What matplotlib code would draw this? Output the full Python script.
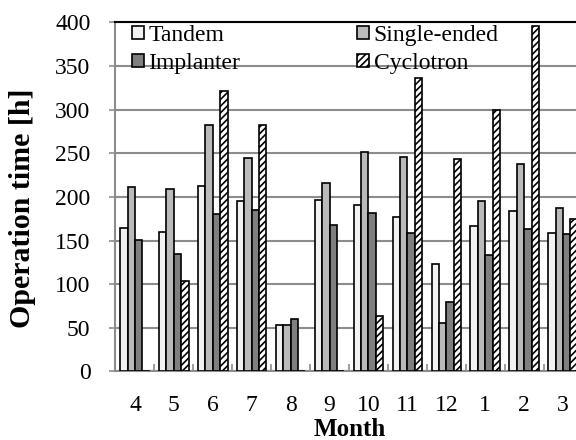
import matplotlib
matplotlib.use('Agg')
import matplotlib.pyplot as plt
import numpy as np

# monthly operation time per accelerator
months = ['4', '5', '6', '7', '8', '9', '10', '11', '12', '1', '2', '3']
tandem = [164, 160, 213, 195, 53, 196, 191, 177, 123, 167, 184, 159]
single_ended = [211, 209, 282, 245, 53, 216, 252, 246, 56, 195, 238, 187]
implanter = [151, 135, 181, 185, 60, 168, 182, 159, 80, 133, 163, 158]
cyclotron = [0, 104, 322, 282, 0, 0, 64, 336, 244, 300, 396, 175]

series = [tandem, single_ended, implanter, cyclotron]
names = ['Tandem', 'Single-ended', 'Implanter', 'Cyclotron']
colors = ['#f2f2f2', '#bababa', '#7f7f7f', 'white']
hatches = [None, None, None, '/////']

plt.rcParams['font.family'] = ['Liberation Serif', 'DejaVu Serif']
plt.rcParams['hatch.linewidth'] = 1.2

fig = plt.figure(figsize=(5.76, 4.4), dpi=100)
ax = fig.add_axes([0.2005, 0.1557, 0.8108, 0.7932])

x = np.arange(len(months))
w = 0.19
bars = []
for k in range(4):
    b = ax.bar(x + (k - 1.5) * w, series[k], width=w, color=colors[k],
               edgecolor='black', linewidth=1.2, hatch=hatches[k],
               label=names[k], zorder=3)
    bars.append(b)

ax.set_xlim(-0.5, len(months) - 0.5)
ax.set_ylim(0, 400)
ax.set_yticks(np.arange(0, 401, 50))
ax.yaxis.grid(True, color='#8c8c8c', linewidth=1.5, zorder=0)
ax.set_axisbelow(True)

ax.set_xticks(x)
ax.set_xticklabels(months)
ax.set_xticks(x[:-1] + 0.5, minor=True)
ax.tick_params(axis='x', which='major', length=0, pad=17, labelsize=17)
ax.tick_params(axis='x', which='minor', direction='in', length=5,
               color='#8c8c8c', width=1.2)
ax.tick_params(axis='y', length=4, color='#8c8c8c', width=1.2, pad=14,
               labelsize=17)

for s in ['left', 'bottom']:
    ax.spines[s].set_color('#8c8c8c')
    ax.spines[s].set_linewidth(1.5)
ax.spines['right'].set_visible(False)
ax.spines['top'].set_color('black')
ax.spines['top'].set_linewidth(1.5)

# axis titles placed on the figure
fig.text(350 / 576, 1 - 429 / 440, 'Month', fontsize=18, fontweight='bold',
         ha='center', va='center')
fig.text(23 / 576, 1 - 208 / 440, 'Operation time [h]', fontsize=21.5,
         fontweight='bold', rotation=90, ha='center', va='center')

# rows: Tandem / Single-ended, Implanter / Cyclotron
order = [0, 2, 1, 3]
ax.legend([bars[i] for i in order], [names[i] for i in order],
          loc='upper left', bbox_to_anchor=(0.0, 1.04), ncol=2,
          frameon=False, fontsize=17, handlelength=0.5, handleheight=0.5,
          handletextpad=0.2, labelspacing=0.3, columnspacing=4.95,
          borderaxespad=0.3)

fig.savefig('out.png', dpi=100)
